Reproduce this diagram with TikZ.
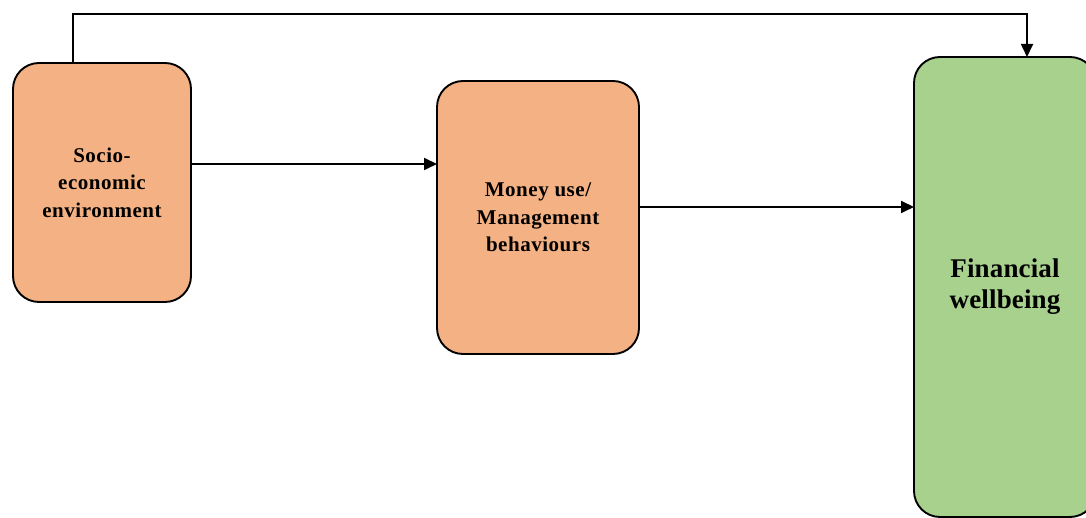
\documentclass[tikz,border=0pt]{standalone}
\usepackage{fontspec}
\setmainfont{Liberation Serif}[LetterSpace=2.5]
\usetikzlibrary{arrows.meta}
\definecolor{boxorange}{HTML}{F4B183}
\definecolor{boxgreen}{HTML}{A9D18E}
\begin{document}
\begin{tikzpicture}[x=1pt,y=1pt,
  box/.style={draw=black,line width=1.9pt,rounded corners=26pt,inner sep=0pt,outer sep=0pt,
    align=center,font=\bfseries\fontsize{21}{27.5}\selectfont},
  arr/.style={line width=1.8pt,-{Triangle[length=13pt,width=12pt]}}]
\useasboundingbox (0,0) rectangle (1086,518);
\node[box,fill=boxorange,minimum width=178pt,minimum height=239pt] (b1) at (102,335.5) {Socio-\\economic\\environment};
\node[box,fill=boxorange,minimum width=202pt,minimum height=273pt] (b2) at (538,300.5) {Money use/\\Management\\behaviours};
\node[box,fill=boxgreen,minimum width=182pt,minimum height=460pt,font=\bfseries\fontsize{27}{31}\selectfont\addfontfeature{LetterSpace=0.5}] (b3) at (1005,231) {Financial\\wellbeing};
\draw[arr] ([yshift=18.5pt]b1.east) -- ([yshift=18.5pt]b1.east -| b2.west);
\draw[arr] ([yshift=10.5pt]b2.east) -- ([yshift=10.5pt]b2.east -| b3.west);
\draw[arr] ([xshift=-29pt]b1.north) -- ++(0,49) -| ([xshift=22pt]b3.north);
\end{tikzpicture}
\end{document}
